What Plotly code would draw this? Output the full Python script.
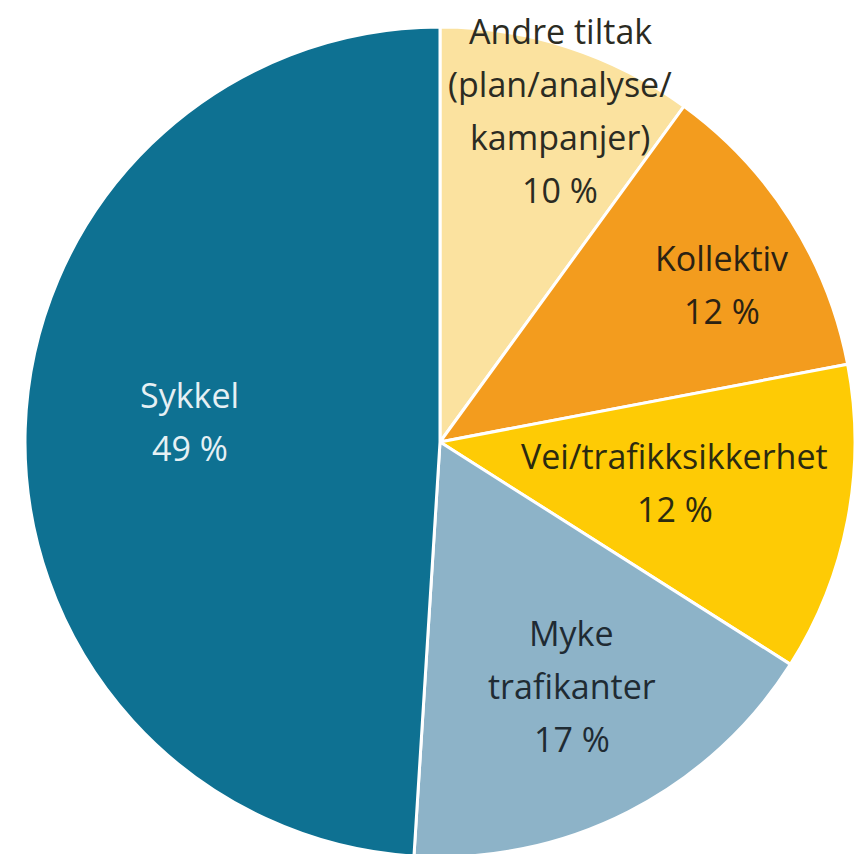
import math
import plotly.graph_objects as go

categories = ["Andre tiltak (plan/analyse/kampanjer)", "Kollektiv", "Vei/trafikksikkerhet", "Myke trafikanter", "Sykkel"]
label_lines = [["Andre tiltak", "(plan/analyse/", "kampanjer)"], ["Kollektiv"], ["Vei/trafikksikkerhet"], ["Myke", "trafikanter"], ["Sykkel"]]
values = [10, 12, 12, 17, 49]
colors = ["#FBE29F", "#F39C1E", "#FECB05", "#8DB3C8", "#0E7192"]
text_colors = ["#2b2b22", "#2b2213", "#2b2a10", "#1f2b33", "#e6f0f4"]
label_radius = [0.851, 0.78, 0.575, 0.67, 0.606]
label_angle_shift = [2.0, 3.2, -1.1, -1.3, 3.0]

W, H = 868, 854
R = 415
cx, cy = 432, 434  # pixels from top-left of the figure
dom_x = [(cx - R) / W, (cx + R) / W]
dom_y = [max(0, 1 - (cy + R) / H), 1 - (cy - R) / H]

fig = go.Figure(go.Pie(
    labels=categories,
    values=values,
    sort=False,
    direction="clockwise",
    rotation=0,
    marker=dict(colors=colors, line=dict(color="white", width=3)),
    textinfo="none",
    hoverinfo="label+percent",
    domain=dict(x=dom_x, y=dom_y),
    showlegend=False,
))

total = sum(values)
cum = 0
line_gap = 53
for i, v in enumerate(values):
    mid = (cum + v / 2) / total * 2 * math.pi + math.radians(label_angle_shift[i])
    cum += v
    r = label_radius[i] * 414
    px = cx + r * math.sin(mid)
    py = cy - r * math.cos(mid)
    lines = label_lines[i] + [f"{round(v / total * 100)} %"]
    n = len(lines)
    for j, t in enumerate(lines):
        ly = py + (j - (n - 1) / 2) * line_gap
        fig.add_annotation(
            x=px / W, y=1 - ly / H, xref="paper", yref="paper",
            text=t, showarrow=False,
            font=dict(family="Open Sans", size=34, color=text_colors[i]),
            xanchor="center", yanchor="middle",
        )

fig.update_layout(
    width=W, height=H,
    margin=dict(l=0, r=0, t=0, b=0),
    paper_bgcolor="white",
    plot_bgcolor="white",
)

fig.write_html("out.html")
